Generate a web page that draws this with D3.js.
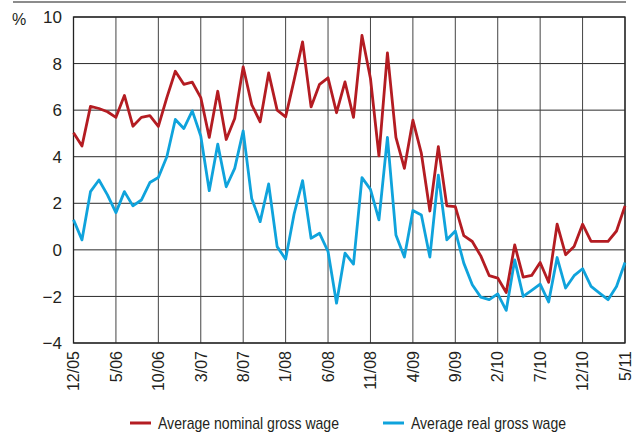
<!DOCTYPE html>
<html lang="en">
  <head>
    <meta charset="UTF-8" />
    <title>Wages</title>
    <script src="https://d3js.org/d3.v7.min.js"></script>
    <style>
      body { margin: 0; background: #fff; }
      text { font-family: "Liberation Sans", Arial, sans-serif; fill: #231f20; }
      .narrow { font-family: "Liberation Sans Narrow", "Arial Narrow", "Liberation Sans", sans-serif; }
    </style>
  </head>
  <body>
    <svg id="chart" width="635" height="434"></svg>
    <script>
      // tick labels every 5 months, 12/05 .. 5/11
      const tickLabels = ["12/05", "5/06", "10/06", "3/07", "8/07", "1/08", "6/08",
                          "11/08", "4/09", "9/09", "2/10", "7/10", "12/10", "5/11"];
      const yTicks = [-4, -2, 0, 2, 4, 6, 8, 10];

      // monthly, Dec 2005 - May 2011
      const nominal = [5.03, 4.46, 6.16, 6.07, 5.93, 5.69, 6.63, 5.31, 5.69, 5.76,
                       5.3, 6.54, 7.67, 7.11, 7.2, 6.54, 4.83, 6.81, 4.74, 5.64,
                       7.86, 6.24, 5.5, 7.6, 6.0, 5.71, 7.29, 8.93, 6.14, 7.11,
                       7.39, 5.89, 7.21, 5.69, 9.21, 7.36, 4.04, 8.46, 4.83, 3.5,
                       5.57, 4.14, 1.67, 4.43, 1.89, 1.86, 0.61, 0.36, -0.26, -1.11,
                       -1.21, -1.83, 0.21, -1.17, -1.1, -0.54, -1.39, 1.1, -0.21, 0.14,
                       1.1, 0.36, 0.36, 0.36, 0.81, 1.89];
      const real = [1.29, 0.43, 2.5, 3.0, 2.36, 1.6, 2.5, 1.89, 2.14, 2.89,
                    3.11, 4.0, 5.6, 5.21, 5.97, 4.89, 2.54, 4.54, 2.71, 3.5,
                    5.11, 2.21, 1.21, 2.83, 0.14, -0.4, 1.54, 2.97, 0.5, 0.71,
                    -0.07, -2.29, -0.14, -0.61, 3.1, 2.6, 1.29, 4.83, 0.64, -0.31,
                    1.69, 1.5, -0.31, 3.21, 0.43, 0.81, -0.57, -1.5, -2.03, -2.14,
                    -1.89, -2.6, -0.43, -2.0, -1.74, -1.47, -2.24, -0.33, -1.64, -1.11,
                    -0.81, -1.57, -1.86, -2.14, -1.57, -0.54];

      const red = "#b41c22";
      const blue = "#0fa3dc";

      const plotL = 73.5, plotR = 625, plotT = 17, plotB = 343;
      const svg = d3.select("#chart");

      const x = d3.scaleLinear().domain([0, nominal.length - 1]).range([plotL, plotR]);
      const y = d3.scaleLinear().domain([-4, 10]).range([plotB, plotT]);

      // rule at very top
      svg.append("line")
        .attr("x1", 13).attr("x2", 626).attr("y1", 2).attr("y2", 2)
        .attr("stroke", "#666").attr("stroke-width", 1.5);

      // grid
      svg.append("g").selectAll("line").data(yTicks).enter().append("line")
        .attr("x1", plotL).attr("x2", plotR)
        .attr("y1", d => y(d)).attr("y2", d => y(d))
        .attr("stroke", "#2a2a2a").attr("stroke-width", 1);
      svg.append("g").selectAll("line").data(tickLabels).enter().append("line")
        .attr("x1", (d, i) => x(i * 5)).attr("x2", (d, i) => x(i * 5))
        .attr("y1", plotT).attr("y2", plotB)
        .attr("stroke", "#444").attr("stroke-width", 1);

      // frame
      svg.append("rect")
        .attr("x", plotL).attr("y", plotT)
        .attr("width", plotR - plotL).attr("height", plotB - plotT)
        .attr("fill", "none").attr("stroke", "#222").attr("stroke-width", 1.3);

      // y labels
      svg.append("g").selectAll("text").data(yTicks).enter().append("text")
        .attr("x", 62).attr("y", d => y(d)).attr("dy", "0.36em")
        .attr("text-anchor", "end").attr("font-size", 17)
        .text(d => d < 0 ? "\u2212" + Math.abs(d) : d);
      svg.append("text").attr("x", 12).attr("y", 25)
        .attr("font-size", 16).text("%");

      // x labels
      svg.append("g").selectAll("text").data(tickLabels).enter().append("text")
        .attr("transform", (d, i) => "translate(" + x(i * 5) + ",351) rotate(-90)")
        .attr("dy", "0.36em")
        .attr("text-anchor", "end").attr("font-size", 16)
        .text(d => d);

      // series
      const line = d3.line().x((d, i) => x(i)).y(d => y(d));
      svg.append("path").datum(real)
        .attr("d", line).attr("fill", "none")
        .attr("stroke", blue).attr("stroke-width", 2.8).attr("stroke-linejoin", "round");
      svg.append("path").datum(nominal)
        .attr("d", line).attr("fill", "none")
        .attr("stroke", red).attr("stroke-width", 2.8).attr("stroke-linejoin", "round");

      // legend
      const legend = [
        { name: "Average nominal gross wage", color: red, x: 130, w: 181 },
        { name: "Average real gross wage", color: blue, x: 383, w: 155 }
      ];
      const lg = svg.append("g").selectAll("g").data(legend).enter().append("g")
        .attr("transform", d => "translate(" + d.x + ",423)");
      lg.append("line").attr("x1", 0).attr("x2", 21)
        .attr("stroke", d => d.color).attr("stroke-width", 3);
      lg.append("text").attr("class", "narrow")
        .attr("x", 28).attr("dy", "0.36em")
        .attr("font-size", 17)
        .attr("textLength", d => d.w).attr("lengthAdjust", "spacingAndGlyphs")
        .text(d => d.name);
    </script>
  </body>
</html>
